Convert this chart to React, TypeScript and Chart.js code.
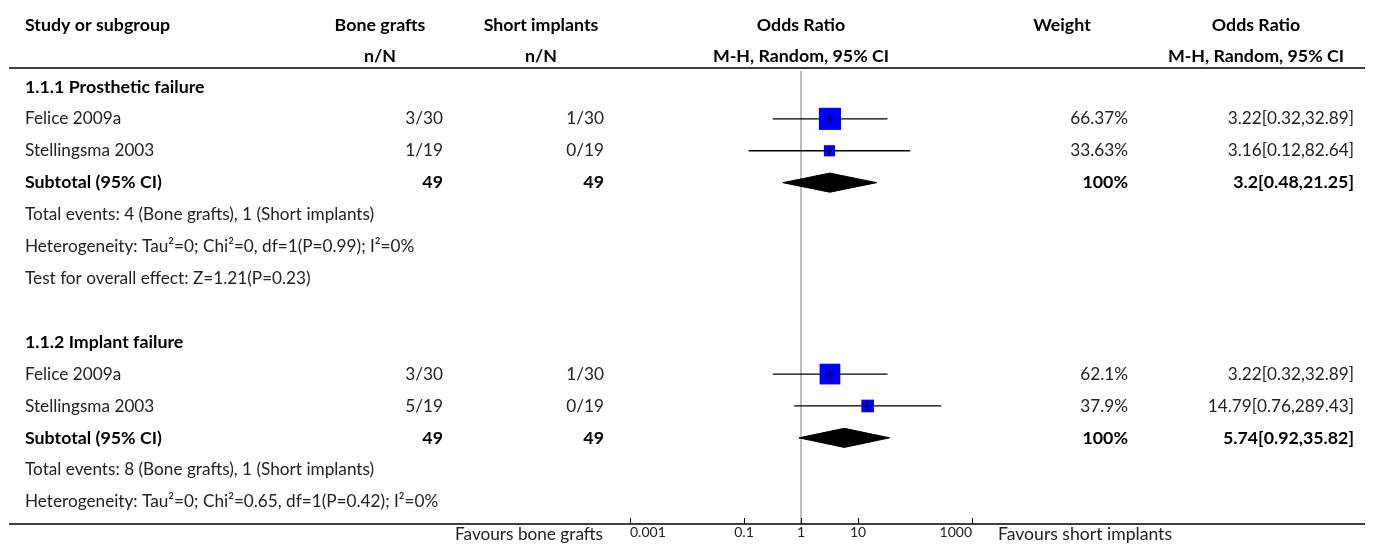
import React, { useEffect, useRef } from "react";
import { Chart, registerables } from "chart.js";

Chart.register(...registerables);

// ---------- data ----------
const studyNames = ["Felice 2009a", "Stellingsma 2003", "Felice 2009a", "Stellingsma 2003"];
const studyRows = [1, 2, 9, 10];
const boneGrafts = ["3/30", "1/19", "3/30", "5/19"];
const shortImplants = ["1/30", "0/19", "1/30", "0/19"];
const oddsRatio = [3.22, 3.16, 3.22, 14.79];
const ciLow = [0.32, 0.12, 0.32, 0.76];
const ciHigh = [32.89, 82.64, 32.89, 289.43];
const weights = [66.37, 33.63, 62.1, 37.9];

const subgroupTitles = ["1.1.1 Prosthetic failure", "1.1.2 Implant failure"];
const subgroupTitleRows = [0, 8];
const subtotalRows = [3, 11];
const subtotalBone = ["49", "49"];
const subtotalShort = ["49", "49"];
const subtotalOR = [3.2, 5.74];
const subtotalLow = [0.48, 0.92];
const subtotalHigh = [21.25, 35.82];
const subtotalWeight = [100, 100];

const noteRows = [4, 5, 6, 12, 13];
const noteTexts = [
  "Total events: 4 (Bone grafts), 1 (Short implants)",
  "Heterogeneity: Tau\u00b2=0; Chi\u00b2=0, df=1(P=0.99); I\u00b2=0%",
  "Test for overall effect: Z=1.21(P=0.23)",
  "Total events: 8 (Bone grafts), 1 (Short implants)",
  "Heterogeneity: Tau\u00b2=0; Chi\u00b2=0.65, df=1(P=0.42); I\u00b2=0%",
];

const axisTicks = [0.001, 0.1, 1, 10, 1000];
const favoursLeft = "Favours bone grafts";
const favoursRight = "Favours short implants";

// ---------- styling ----------
const FONT = "Lato, 'Noto Sans', sans-serif";
const SIZE = 17.2;
const BOLD_SIZE = 17.8;
const TXT = "#222222";

// column anchors
const COL_STUDY = 25;
const COL_BONE_C = 380;
const COL_BONE_R = 443;
const COL_SHORT_C = 541;
const COL_SHORT_R = 604;
const COL_WEIGHT_C = 1062;
const COL_WEIGHT_R = 1128;
const COL_OR_C = 1256;
const COL_OR_R = 1354;

const tablePlugin = {
  id: "forestTable",
  afterDraw(chart: any) {
    const ctx = chart.ctx as CanvasRenderingContext2D;
    const ys = chart.scales.y;
    const xs = chart.scales.x;
    const area = chart.chartArea;
    const W = chart.width;
    const put = (t: string, x: number, y: number, align: CanvasTextAlign, bold = false, size?: number) => {
      const sz = size ?? (bold ? BOLD_SIZE : SIZE);
      ctx.font = `${bold ? "bold " : ""}${sz}px ${FONT}`;
      ctx.fillStyle = bold ? "#000" : TXT;
      ctx.textAlign = align;
      ctx.textBaseline = "middle";
      ctx.fillText(t, x, y);
    };
    ctx.save();
    const plotCenter = (area.left + area.right) / 2;
    // headers
    put("Study or subgroup", COL_STUDY, 25, "left", true);
    put("Bone grafts", COL_BONE_C, 25, "center", true);
    put("Short implants", COL_SHORT_C, 25, "center", true);
    put("Odds Ratio", plotCenter, 25, "center", true);
    put("Weight", COL_WEIGHT_C, 25, "center", true);
    put("Odds Ratio", COL_OR_C, 25, "center", true);
    put("n/N", COL_BONE_C, 56, "center", true);
    put("n/N", COL_SHORT_C, 56, "center", true);
    put("M-H, Random, 95% CI", plotCenter, 56, "center", true);
    put("M-H, Random, 95% CI", COL_OR_C, 56, "center", true);

    // header separator and bottom line
    ctx.strokeStyle = "#000";
    ctx.lineWidth = 1.5;
    ctx.beginPath();
    ctx.moveTo(9, 68);
    ctx.lineTo(W - 8, 68);
    ctx.moveTo(9, area.bottom);
    ctx.lineTo(W - 8, area.bottom);
    ctx.stroke();

    // tick marks pointing up
    ctx.lineWidth = 1;
    ctx.beginPath();
    axisTicks.forEach((v) => {
      const px = Math.round(xs.getPixelForValue(v)) + 0.5;
      ctx.moveTo(px, area.bottom - 6);
      ctx.lineTo(px, area.bottom);
    });
    ctx.stroke();

    // favours labels
    const fy = area.bottom + 10;
    put(favoursLeft, area.left - 27, fy, "right", false, 17.2);
    put(favoursRight, area.right + 26, fy, "left", false, 17.6);

    // subgroup titles
    subgroupTitles.forEach((t, i) => put(t, COL_STUDY, ys.getPixelForValue(subgroupTitleRows[i]), "left", true));

    // studies
    studyNames.forEach((name, i) => {
      const y = ys.getPixelForValue(studyRows[i]);
      put(name, COL_STUDY, y, "left");
      put(boneGrafts[i], COL_BONE_R, y, "right");
      put(shortImplants[i], COL_SHORT_R, y, "right");
      put(`${weights[i]}%`, COL_WEIGHT_R, y, "right");
      put(`${oddsRatio[i]}[${ciLow[i]},${ciHigh[i]}]`, COL_OR_R, y, "right");
    });

    // subtotals
    subtotalRows.forEach((r, i) => {
      const y = ys.getPixelForValue(r);
      put("Subtotal (95% CI)", COL_STUDY, y, "left", true);
      put(subtotalBone[i], COL_BONE_R, y, "right", true);
      put(subtotalShort[i], COL_SHORT_R, y, "right", true);
      put(`${subtotalWeight[i]}%`, COL_WEIGHT_R, y, "right", true);
      put(`${subtotalOR[i]}[${subtotalLow[i]},${subtotalHigh[i]}]`, COL_OR_R, y, "right", true);
    });

    // notes
    noteTexts.forEach((t, i) => put(t, COL_STUDY, ys.getPixelForValue(noteRows[i]), "left"));
    ctx.restore();
  },
};

export default function App() {
  const ref = useRef<HTMLCanvasElement | null>(null);
  useEffect(() => {
    if (!ref.current) return;
    const datasets: any[] = [];
    // null line at OR = 1
    datasets.push({
      data: [{ x: 1, y: -0.5 }, { x: 1, y: 13.7 }],
      showLine: true,
      borderColor: "#a8a8a8",
      borderWidth: 1.5,
      pointRadius: 0,
      order: 6,
    });
    // confidence interval lines
    studyRows.forEach((r, i) => {
      datasets.push({
        data: [{ x: ciLow[i], y: r }, { x: ciHigh[i], y: r }],
        showLine: true,
        borderColor: "#000",
        borderWidth: 1.3,
        pointRadius: 0,
        order: 5,
      });
    });
    // subtotal diamonds
    subtotalRows.forEach((r, i) => {
      datasets.push({
        data: [
          { x: subtotalLow[i], y: r },
          { x: subtotalOR[i], y: r - 0.3 },
          { x: subtotalHigh[i], y: r },
          { x: subtotalOR[i], y: r + 0.3 },
          { x: subtotalLow[i], y: r },
        ],
        showLine: true,
        fill: "shape",
        backgroundColor: "#000",
        borderColor: "#000",
        borderWidth: 1,
        pointRadius: 0,
        tension: 0,
        order: 4,
      });
    });
    // weight squares
    datasets.push({
      data: studyRows.map((r, i) => ({ x: oddsRatio[i], y: r })),
      pointStyle: "rect",
      pointRadius: weights.map((w) => w / 3 / Math.SQRT2),
      backgroundColor: "#0000ff",
      borderWidth: 0,
      order: 3,
    });
    // point estimate crosses
    datasets.push({
      data: studyRows.map((r, i) => ({ x: oddsRatio[i], y: r })),
      pointStyle: "cross",
      pointRadius: 5,
      borderColor: "#000",
      borderWidth: 1,
      order: 2,
    });

    const chart = new Chart(ref.current, {
      type: "scatter",
      data: { datasets },
      options: {
        animation: false,
        responsive: false,
        maintainAspectRatio: false,
        events: [],
        layout: { padding: { left: 630, right: 401, top: 71, bottom: 7 } },
        plugins: { legend: { display: false }, tooltip: { enabled: false } },
        scales: {
          x: {
            type: "logarithmic",
            min: 0.001,
            max: 1000,
            position: "bottom",
            grid: { display: false, drawTicks: false },
            border: { display: false },
            afterBuildTicks: (s: any) => {
              s.ticks = axisTicks.map((v) => ({ value: v }));
            },
            afterFit: (s: any) => {
              s.height = 20;
            },
            ticks: {
              autoSkip: false,
              maxRotation: 0,
              minRotation: 0,
              align: "inner",
              padding: 0,
              color: TXT,
              font: { family: FONT, size: 14 },
              callback: (v: any) => String(v),
            },
          },
          y: {
            type: "linear",
            min: -0.5,
            max: 13.7,
            reverse: true,
            display: false,
          },
        },
      } as any,
      plugins: [tablePlugin],
    });
    return () => chart.destroy();
  }, []);

  return (
    <div style={{ position: "absolute", left: 0, top: 0, width: 1373, height: 551, background: "#fff" }}>
      <canvas ref={ref} width={1373} height={551} />
    </div>
  );
}
